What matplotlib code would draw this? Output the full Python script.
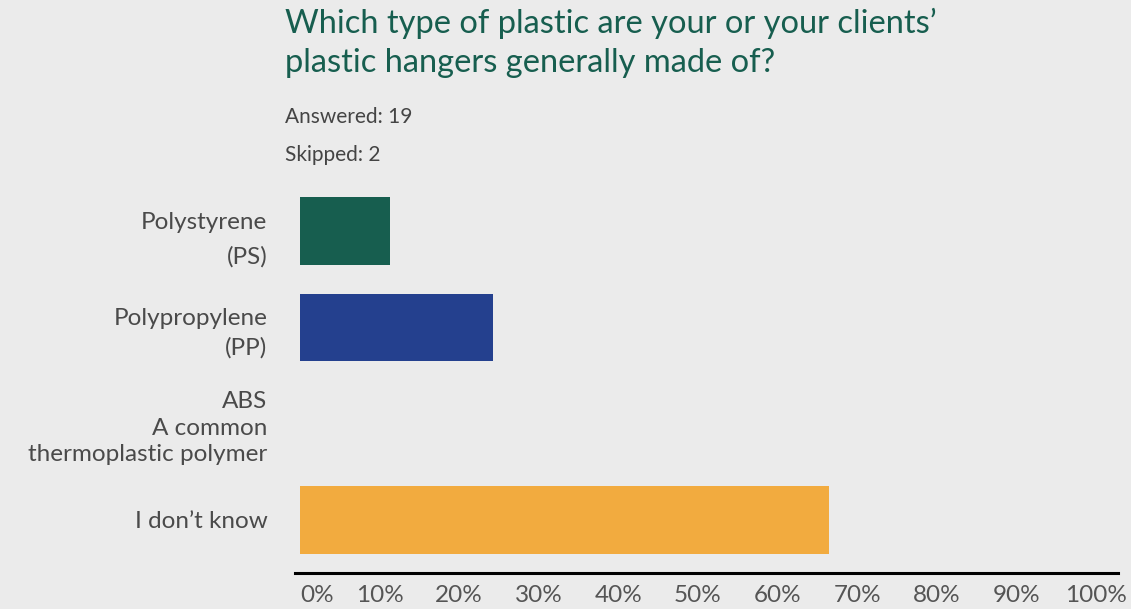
import matplotlib.pyplot as plt

plt.rcParams['font.family'] = ['Lato', 'DejaVu Sans']

categories = ["Polystyrene\n(PS)", "Polypropylene\n(PP)",
              "ABS\nA common\nthermoplastic polymer", "I don\u2019t know"]
shares = [11.3, 24.3, 0.0, 66.5]
bar_colors = ["#175e4f", "#24408e", "#24408e", "#f2ab3f"]
ticks = list(range(0, 101, 10))
tick_labels = [f"{t}%" for t in ticks]
label_spacing = [1.75, 1.45, 1.32, 1.2]
title_lines = ["Which type of plastic are your or your clients\u2019",
               "plastic hangers generally made of?"]

bg = "#ebebeb"
W, H = 1131, 609
fig = plt.figure(figsize=(W / 100, H / 100), dpi=100, facecolor=bg)
ax = fig.add_axes([0.261, 0.0583, 0.7278, 0.6412], facecolor=bg)

ax.barh(range(len(categories)), shares, height=0.70, color=bar_colors)
ax.set_xlim(-0.6, 102.8)
ax.set_ylim(3.556, -0.5)

ax.set_xticks(ticks)
ax.set_xticklabels(tick_labels, fontsize=17.5, color="#555555")
ax.get_xticklabels()[0].set_ha("left")
ax.set_yticks(range(len(categories)))
ax.set_yticklabels(categories, fontsize=17.5, color="#4a4a4a")
for lbl, ls in zip(ax.get_yticklabels(), label_spacing):
    lbl.set_linespacing(ls)
ax.tick_params(axis="x", length=0, pad=8)
ax.tick_params(axis="y", length=0, pad=20)

for side in ["top", "right", "left"]:
    ax.spines[side].set_visible(False)
ax.spines["bottom"].set_linewidth(2.2)
ax.spines["bottom"].set_color("#000000")

# title and response counts, placed by baseline in pixels from the top
for line, base in zip(title_lines, [33, 72]):
    fig.text(285 / W, 1 - base / H, line, ha="left", va="baseline",
             fontsize=23.5, color="#175e4f")
fig.text(285 / W, 1 - 123 / H, "Answered: 19", ha="left", va="baseline",
         fontsize=15, color="#444444")
fig.text(285 / W, 1 - 160.5 / H, "Skipped: 2", ha="left", va="baseline",
         fontsize=15, color="#444444")

fig.savefig("out.png", dpi=100, facecolor=bg)
